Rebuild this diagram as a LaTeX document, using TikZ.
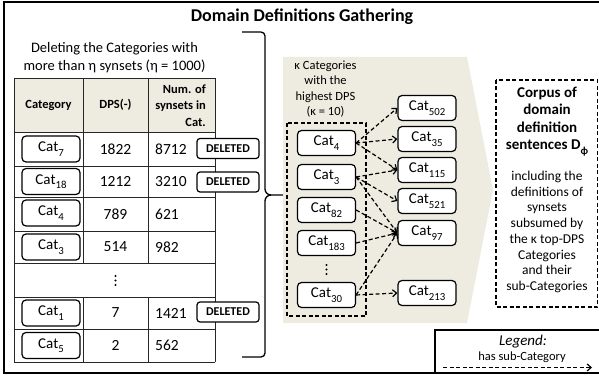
\documentclass[tikz,border=0pt]{standalone}
\usepackage{fontspec}
\setmainfont{Carlito}
\usetikzlibrary{arrows.meta}
\definecolor{beige}{HTML}{EEECE1}
\newcommand\csub[1]{\raisebox{-0.3em}{\scalebox{0.72}{#1}}}
\begin{document}
\begin{tikzpicture}[x=1pt,y=-1pt,
  catbox/.style={draw, line width=1.2pt, rounded corners=4pt, minimum width=58pt, minimum height=26pt, inner sep=0pt, fill=white, font=\fontsize{15}{18}\selectfont},
  rcat/.style={catbox, minimum width=58pt, minimum height=25pt},
  delbox/.style={draw, line width=1.2pt, rounded corners=3pt, minimum width=62pt, minimum height=20pt, inner sep=0pt, fill=white, font=\bfseries\fontsize{12}{14}\selectfont},
  num/.style={inner sep=0pt, font=\fontsize{15.5}{18}\selectfont},
  hdr/.style={inner sep=0pt, font=\bfseries\fontsize{12.5}{16.5}\selectfont},
  subcat/.style={dash pattern=on 4pt off 2.5pt, line width=1.2pt, -{Straight Barb[length=4pt,width=7pt]}},
  grid/.style={line width=0.9pt, black!85},
  vdot/.style={fill=black, circle, inner sep=0pt, minimum size=2.2pt}
]
\useasboundingbox (0,0) rectangle (599,377);
% outer frame
\draw[line width=1.5pt] (600,2) -- (4,2) -- (4,373) -- (600,373);
% title
\node[inner sep=0pt, font=\bfseries\fontsize{18}{22}\selectfont] (title) at (302,17) {Domain Definitions Gathering};
% left caption
\node[inner sep=0pt, align=center, font=\fontsize{14.5}{18}\selectfont] (cap) at (114.5,57.5) {Deleting the Categories with\\more than η synsets (η = 1000)};
% table
\fill[beige] (14,78) rectangle (215,132);
\foreach \y in {78,132,166,197,231,263,297,329,362} \draw[grid] (14,\y) -- (215,\y);
\draw[grid] (14,78) -- (14,362);
\draw[grid] (215,78) -- (215,362);
\foreach \x in {83,148} {\draw[grid] (\x,78) -- (\x,263); \draw[grid] (\x,297) -- (\x,362);}
\node[hdr] (h1) at (48.5,105) {Category};
\node[hdr] (h2) at (115.5,105) {DPS(-)};
\node[hdr, align=right, anchor=east] (h3) at (206,105.5) {Num. of\\synsets in\\Cat.};
% rows
\node[catbox] (t7) at (51,149) {Cat\csub{7}};
\node[catbox] (t18) at (51,181.5) {Cat\csub{18}};
\node[catbox] (t4) at (51,213) {Cat\csub{4}};
\node[catbox] (t3) at (51,247) {Cat\csub{3}};
\node[catbox] (t1) at (51,313) {Cat\csub{1}};
\node[catbox] (t5) at (51,345.5) {Cat\csub{5}};
\node[num] (d7) at (115.5,149) {1822};
\node[num] (d18) at (115.5,181.5) {1212};
\node[num] (d4) at (115.5,214) {789};
\node[num] (d3) at (115.5,247) {514};
\node[num] (d1) at (115.5,313) {7};
\node[num] (d5) at (115.5,345.5) {2};
\node[num, anchor=west] (n7) at (155,149) {8712};
\node[num, anchor=west] (n18) at (155,181.5) {3210};
\node[num, anchor=west] (n4) at (155,214) {621};
\node[num, anchor=west] (n3) at (155,247) {982};
\node[num, anchor=west] (n1) at (155,313) {1421};
\node[num, anchor=west] (n5) at (155,345.5) {562};
\foreach \y in {276,280.5,285} \node[vdot] at (115.5,\y) {};
\node[delbox] (del7) at (228,148.5) {DELETED};
\node[delbox] (del18) at (228,182) {DELETED};
\node[delbox] (del1) at (228,312) {DELETED};
% bracket
\draw[line width=1.3pt] (242,32) -- (261,32) to[out=0,in=90] (265,36) -- (265,189) to[out=-90,in=180] (271,195) -- (284,195);
\draw[line width=1.3pt] (271,195) to[out=180,in=90] (265,201) -- (265,353) to[out=-90,in=0] (261,357) -- (242,357);
% grey arrow area
\fill[beige] (283,57) -- (467,57) -- (493,190) -- (467,323) -- (283,323) -- cycle;
\node[inner sep=0pt, align=center, font=\fontsize{12.5}{15.5}\selectfont] (kcap) at (325.5,89) {κ Categories\\with the\\highest DPS\\(κ = 10)};
\draw[dash pattern=on 4pt off 2.5pt, line width=1.1pt] (287,123) rectangle (366,316);
% left categories
\node[rcat] (c4) at (326.5,143) {Cat\csub{4}};
\node[rcat] (c3) at (326.5,177) {Cat\csub{3}};
\node[rcat] (c82) at (326.5,210) {Cat\csub{82}};
\node[rcat] (c183) at (326.5,243) {Cat\csub{183}};
\foreach \y in {265,269.5,274} \node[vdot] at (326.5,\y) {};
\node[rcat] (c30) at (326.5,295) {Cat\csub{30}};
% right categories
\node[rcat] (r502) at (427,108) {Cat\csub{502}};
\node[rcat] (r35) at (427,139) {Cat\csub{35}};
\node[rcat] (r115) at (427,170) {Cat\csub{115}};
\node[rcat] (r521) at (427,201) {Cat\csub{521}};
\node[rcat] (r97) at (427,233) {Cat\csub{97}};
\node[rcat] (r213) at (427,293) {Cat\csub{213}};
% arrows
\draw[subcat] (c4.east) -- (r502.west);
\draw[subcat] (c4.east) -- (r35.west);
\draw[subcat] (c4.east) -- (r115.west);
\draw[subcat] (c3.east) -- (r115.west);
\draw[subcat] (c3.east) -- (r521.west);
\draw[subcat] (c3.east) -- (r97.west);
\draw[subcat] (c82.east) -- (r97.west);
\draw[subcat] (c183.east) -- (r97.west);
\draw[subcat] (c30.east) -- (r97.west);
\draw[subcat] (c30.east) -- (r213.west);
% corpus box
\draw[dash pattern=on 4pt off 2.5pt, line width=1.1pt] (496,80) rectangle (597.5,307);
\node[inner sep=0pt, align=center, font=\bfseries\fontsize{15}{17.5}\selectfont] (corpus) at (547,121.5) {Corpus of\\domain\\definition\\sentences D\csub{ϕ}};
\node[inner sep=0pt, align=center, font=\fontsize{13.5}{15.7}\selectfont] (incl) at (547,232) {including the\\definitions of\\synsets\\subsumed by\\the κ top-DPS\\Categories\\and their\\sub-Categories};
% legend
\draw[line width=1.3pt] (600,330) -- (435,330) -- (435,373);
\node[inner sep=0pt, font=\itshape\fontsize{15}{18}\selectfont] (leg) at (523,342) {Legend:};
\node[inner sep=0pt, font=\fontsize{12.5}{15}\selectfont] (legt) at (522,357.5) {has sub-Category};
\coordinate (la) at (443,367.5);
\coordinate (lb) at (592,367.5);
\draw[subcat] (la) -- (lb);
\end{tikzpicture}
\end{document}
